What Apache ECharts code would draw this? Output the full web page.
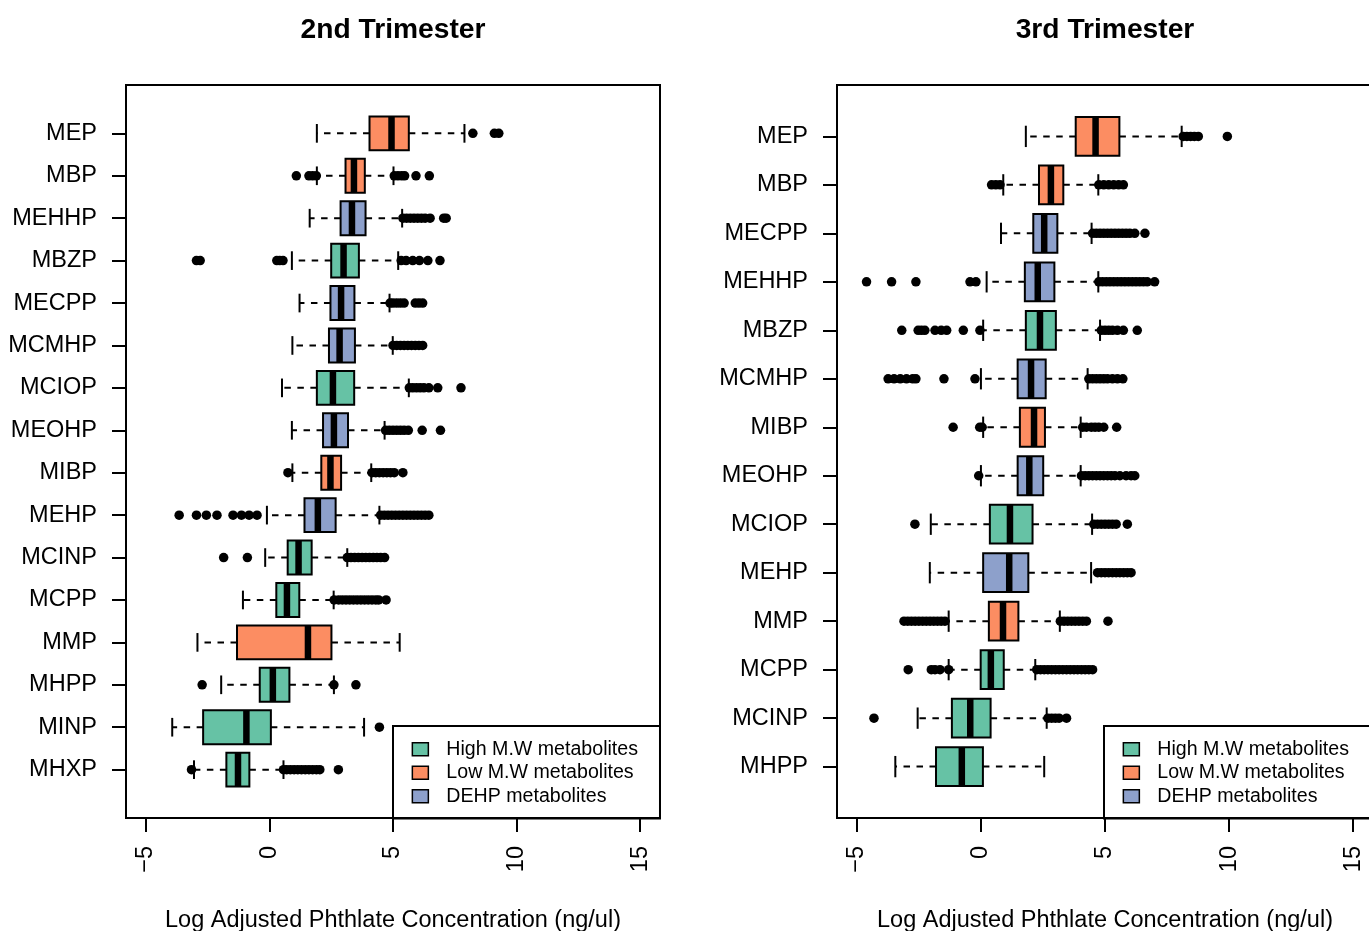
<!DOCTYPE html>
<html>
<head>
<meta charset="utf-8">
<script src="https://cdn.jsdelivr.net/npm/echarts@6/dist/echarts.min.js"></script>
<style>html,body{margin:0;padding:0;background:#fff}#c{width:1369px;height:931px}</style>
</head>
<body>
<div id="c"></div>
<script>
// ---------- data ----------
const GROUP_NAMES = ['High M.W metabolites', 'Low M.W metabolites', 'DEHP metabolites'];
const GROUP_COLORS = ['#66C2A5', '#FC8D62', '#8DA0CB'];
const X_TICKS = [-5, 0, 5, 10, 15];
const TITLES = ['2nd Trimester', '3rd Trimester'];
const X_NAME = 'Log Adjusted Phthlate Concentration (ng/ul)';

// 2nd trimester (listed bottom to top)
const T2_CATEGORIES = ['MHXP','MINP','MHPP','MMP','MCPP','MCINP','MEHP','MIBP','MEOHP','MCIOP','MCMHP','MECPP','MBZP','MEHHP','MBP','MEP'];
const T2_GROUPS = [0,0,0,1,0,0,2,1,2,0,2,2,0,2,1,1];
// [lower whisker, Q1, median, Q3, upper whisker]
const T2_STATS = [
  [-3.05,-1.74,-1.27,-0.81,0.57],
  [-3.93,-2.68,-0.93,0.06,3.83],
  [-1.95,-0.39,0.14,0.81,2.61],
  [-2.91,-1.31,1.56,2.51,5.27],
  [-1.07,0.28,0.71,1.21,2.60],
  [-0.17,0.74,1.18,1.71,3.15],
  [-0.10,1.42,1.96,2.68,4.45],
  [0.93,2.10,2.47,2.90,4.12],
  [0.91,2.17,2.61,3.18,4.66],
  [0.51,1.92,2.57,3.43,5.64],
  [0.93,2.41,2.84,3.46,4.99],
  [1.22,2.47,2.90,3.44,4.86],
  [0.91,2.50,3.00,3.62,5.21],
  [1.63,2.88,3.34,3.89,5.37],
  [1.92,3.08,3.42,3.86,5.02],
  [1.92,4.05,4.94,5.64,7.89]
];
const T2_OUTLIERS = [
  [-3.15,0.57,0.7,0.85,1.0,1.15,1.3,1.45,1.6,1.75,1.9,2.04,2.79],
  [4.45],
  [-2.72,2.61,3.5],
  [],
  [2.62,2.8,2.95,3.1,3.25,3.4,3.55,3.7,3.85,4.0,4.15,4.3,4.42,4.72],
  [-1.85,-0.89,3.15,3.3,3.45,3.6,3.75,3.9,4.05,4.2,4.35,4.5,4.66],
  [-3.65,-2.95,-2.55,-2.12,-1.47,-1.13,-0.82,-0.5,4.5,4.65,4.8,4.95,5.1,5.25,5.4,5.55,5.7,5.85,6.0,6.15,6.3,6.45],
  [0.75,4.15,4.3,4.45,4.6,4.75,4.9,5.05,5.4],
  [4.7,4.85,5.0,5.15,5.3,5.45,5.62,6.18,6.92],
  [5.66,5.8,5.95,6.1,6.25,6.45,6.81,7.75],
  [5.0,5.15,5.3,5.45,5.6,5.75,5.9,6.05,6.2],
  [4.88,5.0,5.15,5.3,5.45,5.9,6.05,6.2],
  [-2.95,-2.8,0.3,0.42,0.55,5.33,5.53,5.8,6.07,6.41,6.9],
  [5.4,5.55,5.7,5.85,6.0,6.15,6.3,6.5,7.05,7.15],
  [1.09,1.6,1.75,1.9,5.05,5.2,5.35,5.47,5.93,6.47],
  [8.23,9.1,9.28]
];

// 3rd trimester (listed bottom to top)
const T3_CATEGORIES = ['MHPP','MCINP','MCPP','MMP','MEHP','MCIOP','MEOHP','MIBP','MCMHP','MBZP','MEHHP','MECPP','MBP','MEP'];
const T3_GROUPS = [0,0,0,1,2,0,2,1,2,0,2,2,1,1];
const T3_STATS = [
  [-3.45,-1.81,-0.77,0.08,2.55],
  [-2.55,-1.17,-0.43,0.39,2.65],
  [-1.30,-0.01,0.40,0.92,2.19],
  [-1.30,0.32,0.89,1.51,3.18],
  [-2.06,0.09,1.14,1.91,4.44],
  [-2.02,0.36,1.17,2.08,4.48],
  [0.00,1.48,1.95,2.51,4.02],
  [0.09,1.57,2.14,2.58,4.02],
  [0.00,1.48,2.02,2.61,4.30],
  [0.09,1.81,2.38,3.02,4.80],
  [0.23,1.77,2.29,2.96,4.73],
  [0.81,2.11,2.55,3.08,4.46],
  [0.90,2.34,2.82,3.32,4.73],
  [1.81,3.82,4.62,5.58,8.09]
];
const T3_OUTLIERS = [
  [],
  [-4.31,2.7,2.85,3.0,3.15,3.45],
  [-2.93,-2.0,-1.85,-1.65,-1.3,2.25,2.4,2.55,2.7,2.85,3.0,3.15,3.3,3.45,3.6,3.75,3.9,4.05,4.2,4.35,4.5],
  [-3.1,-2.95,-2.8,-2.65,-2.5,-2.35,-2.2,-2.05,-1.9,-1.75,-1.6,-1.45,3.2,3.35,3.5,3.65,3.8,3.95,4.1,4.25,5.12],
  [4.7,4.85,5.0,5.15,5.3,5.45,5.6,5.75,5.9,6.05],
  [-2.66,4.55,4.7,4.85,5.0,5.15,5.3,5.45,5.9],
  [-0.09,4.05,4.2,4.35,4.5,4.65,4.8,4.95,5.1,5.25,5.4,5.6,5.85,6.05,6.2],
  [-1.12,-0.05,0.05,4.1,4.25,4.45,4.6,4.75,4.95,5.47],
  [-3.74,-3.5,-3.25,-3.0,-2.75,-2.62,-1.49,-0.24,4.35,4.5,4.65,4.8,4.95,5.1,5.3,5.5,5.72],
  [-3.19,-2.53,-2.4,-2.26,-1.85,-1.6,-1.38,-0.71,-0.04,4.85,5.0,5.15,5.3,5.5,5.74,6.3],
  [-4.61,-3.6,-2.62,-0.44,-0.2,4.75,4.9,5.05,5.2,5.35,5.5,5.65,5.8,5.95,6.1,6.25,6.4,6.55,6.7,7.0],
  [4.5,4.65,4.8,4.95,5.1,5.25,5.4,5.55,5.7,5.85,6.0,6.2,6.61],
  [0.43,0.6,0.77,4.75,4.95,5.15,5.35,5.55,5.74],
  [8.15,8.3,8.45,8.6,8.76,9.93]
];

// ---------- chart ----------
const FONT = 'Liberation Sans, Arial, Helvetica, sans-serif';
const AX_FS = 23.5;
const BOX_W = 0.8, STAPLE_W = 0.44;

function renderBox(params, api) {
  const y = api.value(0);
  const lo = api.coord([api.value(1), y]);
  const q1 = api.coord([api.value(2), y]);
  const md = api.coord([api.value(3), y]);
  const q3 = api.coord([api.value(4), y]);
  const hi = api.coord([api.value(5), y]);
  const h = Math.abs(api.size([0, BOX_W])[1]);
  const s = Math.abs(api.size([0, STAPLE_W])[1]);
  const cy = q1[1];
  const color = api.visual('color');
  const dash = {stroke: '#000', lineWidth: 2, lineDash: [6.5, 6.5], fill: null};
  const solid = {stroke: '#000', lineWidth: 2, fill: null};
  return {
    type: 'group',
    children: [
      {type: 'line', shape: {x1: q1[0], y1: cy, x2: lo[0], y2: cy}, style: dash},
      {type: 'line', shape: {x1: q3[0], y1: cy, x2: hi[0], y2: cy}, style: dash},
      {type: 'line', shape: {x1: lo[0], y1: cy - s / 2, x2: lo[0], y2: cy + s / 2}, style: solid},
      {type: 'line', shape: {x1: hi[0], y1: cy - s / 2, x2: hi[0], y2: cy + s / 2}, style: solid},
      {type: 'rect', shape: {x: q1[0], y: cy - h / 2, width: q3[0] - q1[0], height: h},
        style: {fill: color, stroke: '#000', lineWidth: 2}},
      {type: 'line', shape: {x1: md[0], y1: cy - h / 2, x2: md[0], y2: cy + h / 2},
        style: {stroke: '#000', lineWidth: 6.5}}
    ]
  };
}

const panels = [
  {cats: T2_CATEGORIES, groups: T2_GROUPS, stats: T2_STATS, outl: T2_OUTLIERS,
   grid: {left: 126, top: 85, width: 534, height: 733}, legendLeft: 393},
  {cats: T3_CATEGORIES, groups: T3_GROUPS, stats: T3_STATS, outl: T3_OUTLIERS,
   grid: {left: 837, top: 85, width: 536, height: 733}, legendLeft: 1104}
];

const option = {
  animation: false,
  backgroundColor: '#fff',
  textStyle: {fontFamily: FONT},
  title: [], grid: [], xAxis: [], yAxis: [], legend: [], series: []
};

panels.forEach((p, pi) => {
  const n = p.cats.length;
  option.grid.push(Object.assign({
    show: true, borderColor: '#000', borderWidth: 2, backgroundColor: 'transparent',
    containLabel: false, outerBoundsMode: 'none'
  }, p.grid));
  option.title.push({
    text: TITLES[pi], left: p.grid.left + p.grid.width / 2, top: 30, padding: 0,
    textAlign: 'center', textVerticalAlign: 'middle',
    textStyle: {fontFamily: FONT, fontSize: 28.2, fontWeight: 'bold', color: '#000'}
  });
  option.xAxis.push({
    type: 'value', gridIndex: pi, min: -5.8, max: 15.8,
    splitLine: {show: false}, axisLine: {show: false, onZero: false},
    axisTick: {show: true, length: 14, customValues: X_TICKS, lineStyle: {color: '#000', width: 2}},
    axisLabel: {show: true, customValues: X_TICKS, rotate: 90, margin: 28, fontSize: AX_FS, color: '#000', fontFamily: FONT,
      formatter: v => String(v).replace('-', '\u2212')},
    name: X_NAME, nameLocation: 'middle', nameGap: 91,
    nameTextStyle: {fontSize: AX_FS, color: '#000', fontFamily: FONT}
  });
  const ticks = p.cats.map((c, i) => i + 1);
  // R: ylim = c(0.5, n + 0.5) extended by 4%
  option.yAxis.push({
    type: 'value', gridIndex: pi, min: 0.5 - n * 0.04, max: n + 0.5 + n * 0.04,
    splitLine: {show: false}, axisLine: {show: false, onZero: false},
    axisTick: {show: true, length: 14, customValues: ticks, lineStyle: {color: '#000', width: 2}},
    axisLabel: {show: true, customValues: ticks, margin: 29, fontSize: AX_FS, color: '#000', fontFamily: FONT,
      formatter: v => p.cats[Math.round(v) - 1] || ''}
  });

  GROUP_NAMES.forEach((gname, gi) => {
    const data = [];
    p.stats.forEach((st, ci) => {
      if (p.groups[ci] === gi) data.push([ci + 1].concat(st));
    });
    option.series.push({
      type: 'custom', name: gname, xAxisIndex: pi, yAxisIndex: pi,
      itemStyle: {color: GROUP_COLORS[gi]},
      encode: {x: [1, 2, 3, 4, 5], y: 0},
      renderItem: renderBox, data: data, clip: false
    });
  });
  const pts = [];
  p.outl.forEach((arr, ci) => arr.forEach(v => pts.push([v, ci + 1])));
  option.series.push({
    type: 'scatter', name: 'outliers', xAxisIndex: pi, yAxisIndex: pi,
    symbol: 'circle', symbolSize: 9.5, itemStyle: {color: '#000', opacity: 1}, data: pts, z: 3
  });
  option.legend.push({
    orient: 'vertical', left: p.legendLeft, top: 726, padding: [11.5, 22, 10.5, 18.6],
    itemWidth: 16, itemHeight: 13, itemGap: 0, icon: 'rect', selectedMode: false,
    borderColor: '#000', borderWidth: 2, backgroundColor: 'transparent',
    itemStyle: {borderColor: '#000', borderWidth: 1.5},
    textStyle: {fontFamily: FONT, fontSize: 19.6, color: '#000', lineHeight: 23.5, padding: [0, 0, 0, 13]},
    data: GROUP_NAMES
  });
});

const chart = echarts.init(document.getElementById('c'), null, {renderer: 'canvas'});
chart.setOption(option);
</script>
</body>
</html>
